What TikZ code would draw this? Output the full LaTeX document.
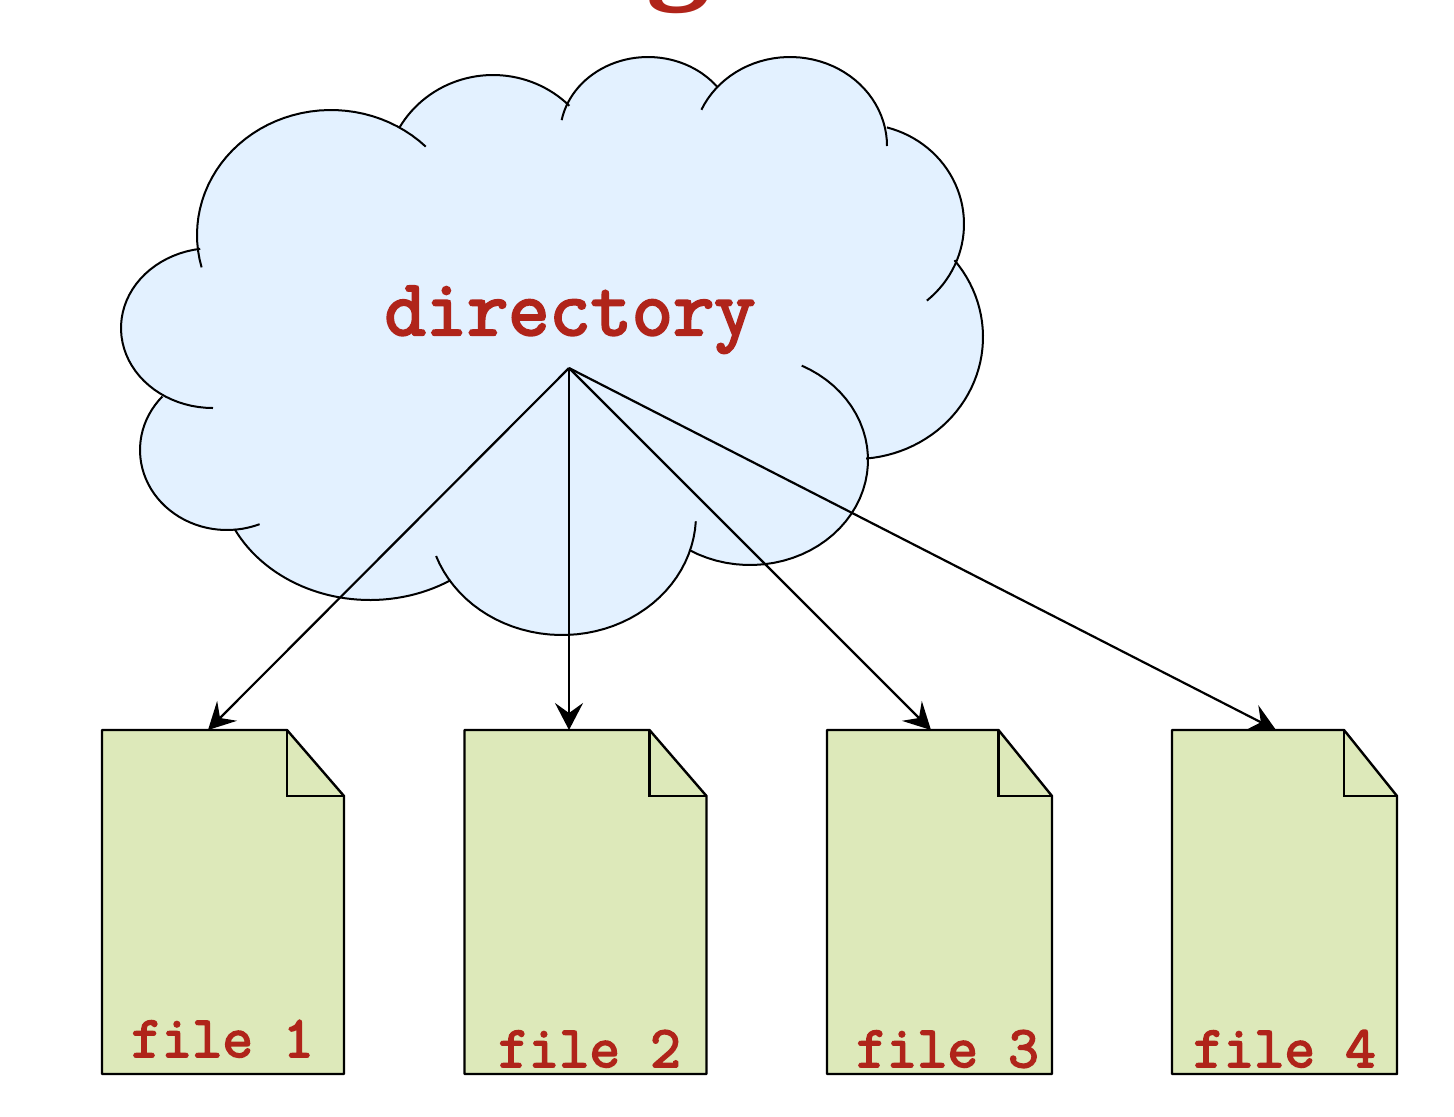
\documentclass[tikz,border=0pt]{standalone}
\usepackage{fontspec}
\usetikzlibrary{arrows.meta}
\newfontfamily\labelfont[FakeBold=3]{Latin Modern Mono}
\newfontfamily\titlefont{Liberation Serif Bold}
\definecolor{labelred}{HTML}{B0241A}
\definecolor{cloudblue}{HTML}{E3F1FF}
\definecolor{pagegreen}{HTML}{DDE9BA}
% cx/cy/rx/ry/start/end of every cloud lobe
\newcommand{\cloudlobes}{331/235/134/125/195/45, 493/180/108/105/150/45, 648/135/88/78/169/38, 790/146/97/89/156/0, 860/224/104/100/75/-50, 855/337/128/122/39/-85, 750/460/118/105/64/-121, 562/515/134/120/-3/-160, 370/470/152/130/-58/-153, 227/450/87/80/-68/-222, 213/328/92/80/-90/-262}
\newcommand{\filepage}[5]{
\path[pagebody] (#2,730) -- (#4,730) -- (#3,796) -- (#3,1074) -- (#2,1074) -- cycle;
\draw[pagefold] (#4,730) -- (#4,796) -- (#3,796);
\coordinate (#1top) at (#5,730);
}
\begin{document}
\begin{tikzpicture}[
x=0.5pt, y=-0.5pt,
% cloud
cloudfill/.style={fill=cloudblue},
cloudline/.style={draw=black, line width=1pt},
% files
pagebody/.style={draw=black, fill=pagegreen, line width=1.2pt, line join=round},
pagefold/.style={draw=black, line width=1.2pt},
% texts
dirlabel/.style={anchor=base, inner sep=0, text=labelred, font=\fontsize{40}{40}\selectfont\labelfont},
filelabel/.style={anchor=base, inner sep=0, text=labelred, font=\fontsize{29.5}{30}\selectfont\labelfont},
titlelabel/.style={anchor=base, inner sep=0, text=labelred, font=\fontsize{64}{64}\selectfont\titlefont},
% links
link/.style={draw=black, line width=1.1pt, -{Stealth[length=13.5pt, width=14pt, inset=5pt]}}
]

\useasboundingbox (0,0) rectangle (1454,1116);

\node[titlelabel] (title) at (678,-15) {g};

% cloud: one filled shape, then the lobes one by one
\fill[cloudfill] (203,268) foreach \cx/\cy/\rx/\ry/\from/\to in \cloudlobes {
-- plot[domain=\from:\to, samples=40] ({\cx+\rx*cos(\x)},{\cy-\ry*sin(\x)})
} -- cycle;
\foreach \cx/\cy/\rx/\ry/\from/\to in \cloudlobes {
\draw[cloudline] plot[domain=\from:\to, samples=40] ({\cx+\rx*cos(\x)},{\cy-\ry*sin(\x)});
}

\node[dirlabel] (directory) at (570,335) {directory};
\coordinate (dirroot) at (569,368);

% the four files
\filepage{file1}{102}{344}{287}{208}
\filepage{file2}{464.5}{706.5}{649.5}{569}
\filepage{file3}{827}{1052}{998.5}{931}
\filepage{file4}{1172}{1397}{1344}{1276}

\node[filelabel] (name1) at (222.5,1057) {file 1};
\node[filelabel] (name2) at (589.5,1067) {file 2};
\node[filelabel] (name3) at (947.5,1067) {file 3};
\node[filelabel] (name4) at (1284.5,1067) {file 4};

\foreach \n in {1,...,4} {
\draw[link] (dirroot) -- (file\n top);
}

\end{tikzpicture}
\end{document}
